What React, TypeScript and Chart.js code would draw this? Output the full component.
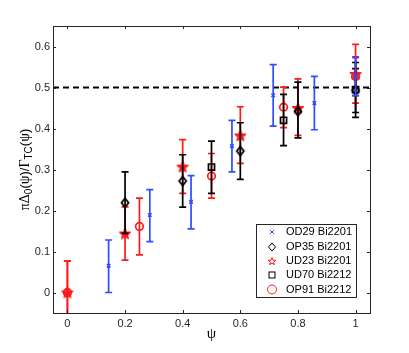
import React, { useEffect, useRef } from "react";
import { Chart, registerables } from "chart.js";
Chart.register(...registerables);

// ---- data ----
const xOD29 = [0.143, 0.286, 0.429, 0.571, 0.714, 0.857, 1.0];
const yOD29 = [0.065, 0.189, 0.221, 0.357, 0.481, 0.462, 0.527];
const loOD29 = [0.0, 0.124, 0.155, 0.294, 0.406, 0.397, 0.48];
const hiOD29 = [0.128, 0.251, 0.285, 0.42, 0.556, 0.527, 0.573];

const xOP35 = [0.2, 0.4, 0.6, 0.8, 1.0];
const yOP35 = [0.219, 0.272, 0.345, 0.442, 0.493];
const loOP35 = [0.144, 0.208, 0.276, 0.377, 0.427];
const hiOP35 = [0.294, 0.336, 0.414, 0.513, 0.561];

const xUD23 = [0.0, 0.2, 0.4, 0.6, 0.8, 1.0];
const yUD23 = [0.0, 0.144, 0.307, 0.383, 0.45, 0.533];
const loUD23 = [-0.077, 0.079, 0.242, 0.315, 0.383, 0.462];
const hiUD23 = [0.077, 0.209, 0.373, 0.453, 0.521, 0.605];

const xUD70 = [0.5, 0.75, 1.0];
const yUD70 = [0.306, 0.42, 0.495];
const loUD70 = [0.242, 0.358, 0.439];
const hiUD70 = [0.369, 0.483, 0.546];

const xOP91 = [0.0, 0.25, 0.5, 0.75, 1.0];
const yOP91 = [0.0, 0.161, 0.284, 0.452, 0.527];
const loOP91 = [-0.077, 0.092, 0.23, 0.402, 0.48];
const hiOP91 = [0.077, 0.23, 0.339, 0.501, 0.575];

const refLevel = 0.5;
const xTicks = [0, 0.2, 0.4, 0.6, 0.8, 1];
const yTicks = [0, 0.1, 0.2, 0.3, 0.4, 0.5, 0.6];
const xRange = [-0.05, 1.05];
const yRange = [-0.05, 0.65];
const legendLabels = ["OD29 Bi2201", "OP35 Bi2201", "UD23 Bi2201", "UD70 Bi2212", "OP91 Bi2212"];

const BLUE = "#2e4dff";
const RED = "#ff1a1a";
const BLACK = "#000000";
const AXIS = "#262626";

function starPath(ctx: CanvasRenderingContext2D, cx: number, cy: number, ro: number, ri: number) {
  ctx.beginPath();
  for (let i = 0; i < 10; i++) {
    const r = i % 2 === 0 ? ro : ri;
    const a = -Math.PI / 2 + (i * Math.PI) / 5;
    const px = cx + r * Math.cos(a);
    const py = cy + r * Math.sin(a);
    if (i === 0) ctx.moveTo(px, py);
    else ctx.lineTo(px, py);
  }
  ctx.closePath();
}

function makeStarCanvas() {
  const c = document.createElement("canvas");
  c.width = 14;
  c.height = 14;
  const g = c.getContext("2d")!;
  starPath(g, 7, 7.5, 5.5, 2.3);
  g.fillStyle = RED;
  g.fill();
  g.strokeStyle = RED;
  g.lineWidth = 1.5;
  g.lineJoin = "round";
  g.stroke();
  return c;
}

function makeDiamondCanvas() {
  const c = document.createElement("canvas");
  c.width = 12;
  c.height = 14;
  const g = c.getContext("2d")!;
  g.beginPath();
  g.moveTo(6, 2.5);
  g.lineTo(9.5, 7);
  g.lineTo(6, 11.5);
  g.lineTo(2.5, 7);
  g.closePath();
  g.strokeStyle = BLACK;
  g.lineWidth = 1.8;
  g.stroke();
  return c;
}

function mk(xs: number[], ys: number[]) {
  return xs.map((x, i) => ({ x, y: ys[i] }));
}

const errorBarPlugin = {
  id: "errbars",
  beforeDatasetDraw(chart: any, args: any) {
    const ds = chart.data.datasets[args.index];
    if (!ds.errLo) return;
    const ctx = chart.ctx;
    const xs = chart.scales.x;
    const ysc = chart.scales.y;
    const a = chart.chartArea;
    ctx.save();
    ctx.beginPath();
    ctx.rect(a.left, a.top, a.right - a.left, a.bottom - a.top);
    ctx.clip();
    ctx.strokeStyle = ds.borderColor;
    ctx.lineWidth = 1.7;
    ds.data.forEach((p: any, i: number) => {
      const px = xs.getPixelForValue(p.x);
      const p1 = ysc.getPixelForValue(ds.errLo[i]);
      const p2 = ysc.getPixelForValue(ds.errHi[i]);
      ctx.beginPath();
      ctx.moveTo(px, p1);
      ctx.lineTo(px, p2);
      ctx.moveTo(px - 3.5, p1);
      ctx.lineTo(px + 3.5, p1);
      ctx.moveTo(px - 3.5, p2);
      ctx.lineTo(px + 3.5, p2);
      ctx.stroke();
    });
    ctx.restore();
  },
};

const decorPlugin = {
  id: "decor",
  afterDraw(chart: any) {
    const ctx = chart.ctx;
    const a = chart.chartArea;
    const xs = chart.scales.x;
    const ys = chart.scales.y;
    ctx.save();
    // box
    ctx.strokeStyle = AXIS;
    ctx.lineWidth = 1;
    ctx.strokeRect(Math.round(a.left) + 0.5, Math.round(a.top) + 0.5, Math.round(a.right - a.left), Math.round(a.bottom - a.top));
    // inward ticks
    ctx.beginPath();
    xTicks.forEach((v) => {
      const px = Math.round(xs.getPixelForValue(v)) + 0.5;
      ctx.moveTo(px, a.bottom);
      ctx.lineTo(px, a.bottom - 3);
      ctx.moveTo(px, a.top);
      ctx.lineTo(px, a.top + 3);
    });
    yTicks.forEach((v) => {
      const py = Math.round(ys.getPixelForValue(v)) + 0.5;
      ctx.moveTo(a.left, py);
      ctx.lineTo(a.left + 3, py);
      ctx.moveTo(a.right, py);
      ctx.lineTo(a.right - 3, py);
    });
    ctx.stroke();

    // x label
    ctx.fillStyle = "#000";
    ctx.font = "15px 'Liberation Serif'";
    ctx.textAlign = "center";
    ctx.textBaseline = "middle";
    ctx.fillText("ψ", (a.left + a.right) / 2, 334);

    // y label with subscripts
    const segs = [
      { t: "π", f: "14px 'Liberation Serif'", d: 0 },
      { t: "Δ", f: "14px 'Liberation Serif'", d: 0 },
      { t: "0", f: "10px 'Liberation Sans'", d: 3 },
      { t: "(", f: "13px 'Liberation Sans'", d: 0 },
      { t: "ψ", f: "14px 'Liberation Serif'", d: 0 },
      { t: ")/", f: "13px 'Liberation Sans'", d: 0 },
      { t: "Γ", f: "14px 'Liberation Serif'", d: 0 },
      { t: "TC", f: "10px 'Liberation Sans'", d: 3 },
      { t: "(", f: "13px 'Liberation Sans'", d: 0 },
      { t: "ψ", f: "14px 'Liberation Serif'", d: 0 },
      { t: ")", f: "13px 'Liberation Sans'", d: 0 },
    ];
    let total = 0;
    segs.forEach((s) => {
      ctx.font = s.f;
      total += ctx.measureText(s.t).width;
    });
    ctx.translate(29, (a.top + a.bottom) / 2);
    ctx.rotate(-Math.PI / 2);
    ctx.textAlign = "left";
    ctx.textBaseline = "alphabetic";
    let cx = -total / 2;
    segs.forEach((s) => {
      ctx.font = s.f;
      ctx.fillText(s.t, cx, s.d);
      cx += ctx.measureText(s.t).width;
    });
    ctx.setTransform(1, 0, 0, 1, 0, 0);

    // legend
    const lx = 256, ly = 224, lw = 100, lh = 73;
    ctx.fillStyle = "#fff";
    ctx.fillRect(lx, ly, lw, lh);
    ctx.strokeStyle = AXIS;
    ctx.lineWidth = 1;
    ctx.strokeRect(lx + 0.5, ly + 0.5, lw, lh);
    const rows = [232, 247, 261, 275, 289.5];
    const mx = 272;
    ctx.lineWidth = 1;
    // x marker
    ctx.strokeStyle = BLUE;
    ctx.beginPath();
    ctx.moveTo(mx - 2, rows[0] - 2);
    ctx.lineTo(mx + 2, rows[0] + 2);
    ctx.moveTo(mx + 2, rows[0] - 2);
    ctx.lineTo(mx - 2, rows[0] + 2);
    ctx.stroke();
    // diamond
    ctx.strokeStyle = BLACK;
    ctx.beginPath();
    ctx.moveTo(mx, rows[1] - 4);
    ctx.lineTo(mx + 3.5, rows[1]);
    ctx.lineTo(mx, rows[1] + 4);
    ctx.lineTo(mx - 3.5, rows[1]);
    ctx.closePath();
    ctx.stroke();
    // star
    ctx.strokeStyle = RED;
    starPath(ctx, mx, rows[2] + 0.5, 4, 1.7);
    ctx.stroke();
    // square
    ctx.strokeStyle = BLACK;
    ctx.strokeRect(mx - 3, rows[3] - 3, 6, 6);
    // circle
    ctx.strokeStyle = RED;
    ctx.beginPath();
    ctx.arc(mx, rows[4], 4.5, 0, Math.PI * 2);
    ctx.stroke();
    ctx.fillStyle = "#000";
    ctx.font = "11px 'Liberation Sans'";
    ctx.textBaseline = "middle";
    ctx.textAlign = "left";
    legendLabels.forEach((l, i) => ctx.fillText(l, 286, rows[i]));
    ctx.restore();
  },
};

export default function App() {
  const ref = useRef<HTMLCanvasElement | null>(null);
  useEffect(() => {
    if (!ref.current) return;
    const star = makeStarCanvas();
    const diamond = makeDiamondCanvas();
    const chart = new Chart(ref.current, {
      type: "scatter",
      data: {
        datasets: [
          {
            label: legendLabels[0],
            data: mk(xOD29, yOD29),
            errLo: loOD29,
            errHi: hiOD29,
            borderColor: BLUE,
            backgroundColor: "rgba(0,0,0,0)",
            pointStyle: "crossRot",
            pointRadius: 2.5,
            pointBorderWidth: 1.5,
          } as any,
          {
            label: legendLabels[1],
            data: mk(xOP35, yOP35),
            errLo: loOP35,
            errHi: hiOP35,
            borderColor: BLACK,
            backgroundColor: "rgba(0,0,0,0)",
            pointStyle: diamond,
            pointRadius: 5,
          } as any,
          {
            label: legendLabels[2],
            data: mk(xUD23, yUD23),
            errLo: loUD23,
            errHi: hiUD23,
            borderColor: RED,
            backgroundColor: RED,
            pointStyle: star,
            pointRadius: 6,
          } as any,
          {
            label: legendLabels[3],
            data: mk(xUD70, yUD70),
            errLo: loUD70,
            errHi: hiUD70,
            borderColor: BLACK,
            backgroundColor: "rgba(0,0,0,0)",
            pointStyle: "rect",
            pointRadius: 4.3,
            pointBorderWidth: 1.7,
          } as any,
          {
            label: legendLabels[4],
            data: mk(xOP91, yOP91),
            errLo: loOP91,
            errHi: hiOP91,
            borderColor: RED,
            backgroundColor: "rgba(0,0,0,0)",
            pointStyle: "circle",
            pointRadius: 3.8,
            pointBorderWidth: 1.7,
          } as any,
          {
            type: "line",
            label: "ref",
            data: [
              { x: xRange[0], y: refLevel },
              { x: xRange[1], y: refLevel },
            ],
            borderColor: BLACK,
            borderWidth: 1.8,
            borderDash: [6, 4],
            pointRadius: 0,
            showLine: true,
          } as any,
        ],
      },
      options: {
        animation: false,
        responsive: false,
        events: [],
        layout: { padding: { top: 26, right: 39, left: 0, bottom: 0 } },
        plugins: { legend: { display: false }, tooltip: { enabled: false }, title: { display: false } },
        scales: {
          x: {
            type: "linear",
            min: xRange[0],
            max: xRange[1],
            grid: { display: false, drawTicks: false },
            border: { display: false },
            afterBuildTicks: (s: any) => {
              s.ticks = xTicks.map((v) => ({ value: v }));
            },
            afterFit: (s: any) => {
              s.height = 40;
            },
            ticks: {
              padding: 4,
              color: AXIS,
              font: { family: "'Liberation Sans'", size: 11 },
              maxRotation: 0,
              callback: (v: any) => String(Math.round(v * 10) / 10),
            },
          },
          y: {
            type: "linear",
            min: yRange[0],
            max: yRange[1],
            grid: { display: false, drawTicks: false },
            border: { display: false },
            afterBuildTicks: (s: any) => {
              s.ticks = yTicks.map((v) => ({ value: v }));
            },
            afterFit: (s: any) => {
              s.width = 53;
            },
            ticks: {
              padding: 3,
              color: AXIS,
              font: { family: "'Liberation Sans'", size: 11 },
              callback: (v: any) => String(Math.round(v * 10) / 10),
            },
          },
        },
      },
      plugins: [errorBarPlugin, decorPlugin],
    } as any);
    return () => chart.destroy();
  }, []);
  return (
    <div style={{ position: "absolute", left: 0, top: 0, width: 409, height: 353 }}>
      <canvas ref={ref} width={409} height={353} style={{ width: 409, height: 353, display: "block" }} />
    </div>
  );
}
